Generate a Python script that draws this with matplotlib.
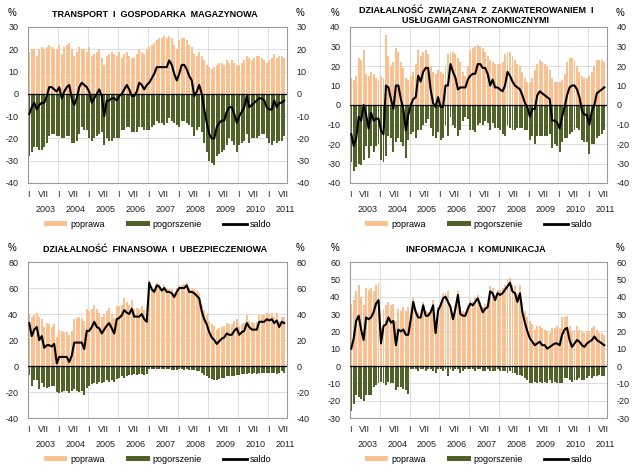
import numpy as np
import matplotlib
matplotlib.use("Agg")
import matplotlib.pyplot as plt
from matplotlib.patches import Patch
from matplotlib.lines import Line2D

plt.rcParams['font.family'] = ['Liberation Sans', 'DejaVu Sans']
plt.rcParams['axes.unicode_minus'] = False

years = ['2003', '2004', '2005', '2006', '2007', '2008', '2009', '2010', '2011']
month_labels = ['I', 'VII']

# monthly values I 2003 - VII 2011 (saldo = poprawa + pogorszenie)
transport_poprawa = [
    19, 20, 20, 17, 20, 21, 20, 21, 22, 21, 20, 20,
    22, 18, 21, 22, 23, 20, 17, 19, 21, 20, 20, 19,
    21, 17, 18, 19, 20, 16, 13, 17, 18, 19, 18, 17,
    19, 16, 18, 19, 17, 16, 16, 18, 20, 19, 18, 20,
    21, 22, 23, 24, 25, 25, 26, 25, 26, 25, 22, 20,
    24, 25, 25, 24, 22, 21, 18, 17, 19, 17, 15, 13,
    12, 11, 12, 13, 14, 14, 13, 15, 14, 15, 14, 13,
    13, 14, 15, 17, 16, 15, 16, 17, 17, 16, 15, 14,
    15, 16, 18, 16, 17, 17, 16]
transport_saldo = [
    -9, -6, -4, -7, -5, -4, -4, -1, 3, 3, 2, 1,
    3, -2, 1, 3, 4, -2, -5, -2, 3, 5, 4, 3,
    1, -4, -2, 0, 2, -1, -10, -3, -3, -2, -2, -3,
    -1, 0, 2, 4, 2, -1, -1, 1, 5, 4, 2, 4,
    5, 7, 9, 12, 12, 12, 12, 12, 15, 13, 9, 6,
    9, 13, 13, 11, 8, 6, -1, 1, 4, 0, -7, -13,
    -18, -20, -20, -15, -13, -12, -12, -8, -6, -6, -9, -13,
    -10, -8, -6, -1, -6, -5, -4, -3, -2, -2, -3, -6,
    -7, -7, -3, -6, -4, -4, -3]

hotel_poprawa = [
    14, 13, 15, 24, 23, 28, 16, 15, 17, 16, 14, 13,
    15, 14, 36, 25, 20, 22, 29, 27, 22, 19, 14, 13,
    15, 17, 21, 28, 25, 27, 28, 26, 20, 17, 16, 18,
    17, 16, 20, 26, 27, 27, 26, 24, 22, 17, 15, 20,
    28, 29, 30, 31, 30, 29, 27, 25, 23, 22, 21, 21,
    21, 22, 26, 27, 27, 25, 23, 21, 20, 17, 14, 12,
    12, 14, 18, 21, 23, 22, 21, 20, 18, 14, 12, 12,
    12, 13, 16, 22, 24, 24, 23, 20, 17, 15, 14, 14,
    15, 17, 20, 23, 23, 23, 22]
hotel_saldo = [
    -15, -21, -17, -6, -8, 0, -5, -12, -4, -8, -7, -7,
    -13, -15, 10, 9, 3, -2, 10, 10, 3, -2, -13, -5,
    0, 3, 4, 15, 12, 17, 19, 19, 8, 1, -1, 4,
    -1, -1, 10, 10, 21, 17, 14, 8, 9, 9, 9, 13,
    15, 16, 16, 21, 21, 19, 19, 16, 10, 13, 9, 9,
    8, 7, 10, 17, 15, 12, 10, 9, 8, 5, 1, -1,
    -6, -2, -2, 5, 7, 6, 5, 4, 3, -8, -8, -9,
    -12, -6, -1, 5, 9, 10, 10, 8, 4, -3, -5, -5,
    -10, -3, 0, 6, 7, 8, 9]

finance_poprawa = [
    40, 38, 39, 41, 38, 36, 30, 33, 32, 30, 32, 22,
    28, 27, 26, 26, 24, 27, 36, 37, 38, 37, 35, 44,
    42, 44, 47, 44, 41, 38, 40, 42, 45, 40, 37, 46,
    46, 47, 52, 49, 47, 51, 44, 45, 44, 46, 43, 40,
    66, 61, 59, 64, 63, 60, 62, 59, 59, 59, 56, 60,
    62, 62, 63, 64, 60, 60, 59, 58, 56, 47, 43, 40,
    35, 32, 31, 28, 29, 30, 31, 33, 32, 32, 35, 36,
    31, 32, 33, 39, 35, 34, 33, 34, 39, 39, 39, 41,
    40, 41, 38, 41, 35, 38, 38]
finance_saldo = [
    33, 23, 28, 30, 20, 23, 14, 16, 16, 15, 17, 2,
    7, 7, 7, 7, 3, 8, 18, 18, 18, 18, 13, 27,
    27, 30, 34, 30, 29, 25, 28, 31, 33, 29, 25, 36,
    37, 39, 43, 41, 40, 44, 38, 38, 38, 40, 36, 34,
    64, 59, 57, 62, 61, 58, 60, 57, 57, 56, 53, 57,
    60, 60, 60, 62, 57, 57, 56, 54, 52, 42, 36, 32,
    26, 22, 20, 17, 19, 21, 22, 25, 24, 24, 27, 29,
    24, 26, 27, 33, 30, 28, 28, 28, 34, 34, 34, 36,
    35, 36, 33, 35, 30, 34, 33]

info_poprawa = [
    36, 38, 43, 47, 40, 35, 45, 44, 45, 43, 47, 48,
    22, 33, 35, 37, 35, 36, 26, 33, 32, 34, 32, 34,
    29, 39, 33, 31, 30, 37, 32, 31, 33, 38, 23, 34,
    37, 42, 42, 43, 36, 30, 35, 43, 34, 32, 31, 35,
    38, 37, 40, 41, 37, 34, 36, 36, 46, 45, 41, 44,
    44, 45, 47, 50, 51, 47, 46, 42, 47, 37, 32, 28,
    26, 24, 21, 23, 23, 22, 21, 20, 19, 22, 22, 23,
    22, 28, 28, 29, 23, 20, 21, 23, 21, 20, 19, 20,
    20, 22, 23, 21, 19, 19, 18]
info_saldo = [
    10, 16, 26, 29, 21, 15, 28, 27, 28, 31, 36, 38,
    13, 23, 24, 28, 25, 26, 12, 21, 20, 21, 18, 18,
    27, 37, 31, 28, 28, 35, 29, 29, 31, 35, 19, 32,
    35, 39, 40, 37, 34, 27, 33, 41, 30, 29, 29, 33,
    36, 35, 37, 39, 35, 31, 33, 34, 43, 42, 38, 42,
    41, 42, 44, 46, 48, 43, 42, 37, 42, 31, 25, 20,
    16, 14, 12, 13, 14, 12, 12, 10, 11, 12, 13, 13,
    12, 18, 21, 22, 15, 11, 13, 15, 14, 12, 11, 13,
    14, 15, 17, 15, 14, 13, 12]

ORANGE = '#FAC090'
GREEN = '#4F6228'
GRID = '#D9D9D9'
FS = 6.5

panels = [
    ("TRANSPORT  I  GOSPODARKA  MAGAZYNOWA", transport_poprawa, transport_saldo,
     (-40, 30), 10, [28/640, 1-183/471, 259/640, 156/471]),
    ("DZIAŁALNOŚĆ  ZWIĄZANA  Z  ZAKWATEROWANIEM  I\nUSŁUGAMI GASTRONOMICZNYMI", hotel_poprawa, hotel_saldo,
     (-40, 40), 10, [350/640, 1-183/471, 257/640, 156/471]),
    ("DZIAŁALNOŚĆ  FINANSOWA  I  UBEZPIECZENIOWA", finance_poprawa, finance_saldo,
     (-40, 80), 20, [28/640, 1-418/471, 259/640, 156/471]),
    ("INFORMACJA  I  KOMUNIKACJA", info_poprawa, info_saldo,
     (-30, 60), 10, [350/640, 1-418/471, 257/640, 156/471]),
]

fig = plt.figure(figsize=(6.4, 4.71), dpi=100)

for title, poprawa, saldo, ylim, step, rect in panels:
    ax = fig.add_axes(rect)
    poprawa = np.array(poprawa)
    saldo = np.array(saldo)
    pogorszenie = saldo - poprawa
    x = np.arange(len(poprawa))

    ax.bar(x, poprawa, width=0.78, color=ORANGE, linewidth=0, zorder=2)
    ax.bar(x, pogorszenie, width=0.78, color=GREEN, linewidth=0, zorder=2)
    ax.axhline(0, color='black', lw=0.9, zorder=3)
    ax.plot(x, saldo, color='black', lw=1.5, zorder=4)

    ax.set_xlim(-0.5, 103.1)
    ax.set_ylim(*ylim)
    ax.set_yticks(np.arange(ylim[0], ylim[1] + 1, step))
    ax.yaxis.grid(True, color=GRID, lw=0.6, zorder=0)
    for k in range(1, 9):
        ax.axvline(12 * k - 0.5, color=GRID, lw=0.6, zorder=0)

    ticks, labels = [], []
    for k in range(len(years)):
        ticks += [12 * k - 0.5, 12 * k + 5.5]
        labels += month_labels
    ax.set_xticks(ticks)
    ax.set_xticklabels(labels)
    for k, yr in enumerate(years):
        ax.annotate(yr, xy=(12 * k + 6.5, 0), xycoords=('data', 'axes fraction'),
                    xytext=(0, -19), textcoords='offset points',
                    ha='center', va='center', fontsize=FS, color='#222222')

    ax.tick_params(axis='both', length=0, labelsize=FS, colors='#222222')
    ax.tick_params(axis='y', pad=7, labelleft=True, labelright=True)
    ax.tick_params(axis='x', pad=5)
    for s in ax.spines.values():
        s.set_color('#9A9A9A')
        s.set_linewidth(0.8)

    ax.text(0.49, 1.08, title, transform=ax.transAxes, ha='center', va='center',
            fontsize=FS, fontweight='bold', linespacing=1.1)
    ax.text(-0.06, 1.09, '%', transform=ax.transAxes, ha='center', va='center', fontsize=FS + 0.5)
    ax.text(1.05, 1.09, '%', transform=ax.transAxes, ha='center', va='center', fontsize=FS + 0.5)

    handles = [Patch(facecolor=ORANGE, edgecolor='none'),
               Patch(facecolor=GREEN, edgecolor='none'),
               Line2D([], [], color='black', lw=2)]
    ax.legend(handles, ['poprawa', 'pogorszenie', 'saldo'], loc='center',
              bbox_to_anchor=(0.5, -0.265), ncol=3, frameon=False, fontsize=FS,
              handlelength=2.6, handleheight=0.5, columnspacing=2.4, handletextpad=0.3)

fig.savefig('out.png', dpi=100)
